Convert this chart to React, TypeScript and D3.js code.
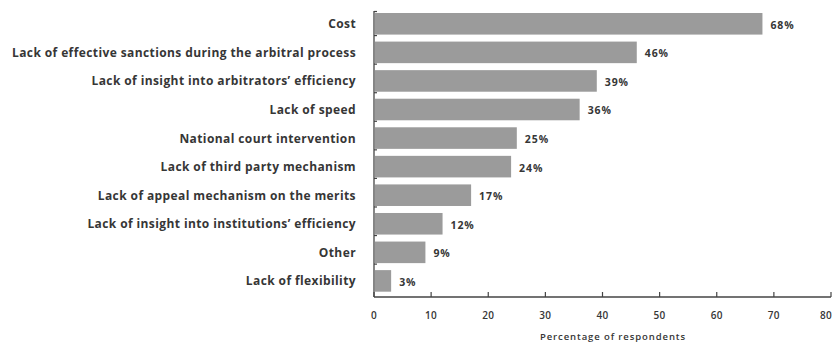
import React from "react";
import * as d3 from "d3";

const categories: string[] = [
  "Cost",
  "Lack of effective sanctions during the arbitral process",
  "Lack of insight into arbitrators\u2019 efficiency",
  "Lack of speed",
  "National court intervention",
  "Lack of third party mechanism",
  "Lack of appeal mechanism on the merits",
  "Lack of insight into institutions\u2019 efficiency",
  "Other",
  "Lack of flexibility",
];
const values: number[] = [68, 46, 39, 36, 25, 24, 17, 12, 9, 3];
const xTicks: number[] = [0, 10, 20, 30, 40, 50, 60, 70, 80];
const xTitle = "Percentage of respondents";

const W = 832;
const H = 344;
const FONT = "'Open Sans', 'DejaVu Sans', sans-serif";
const TEXT = "#363636";
const BAR = "#9b9b9b";

export default function App() {
  const x = d3.scaleLinear().domain([0, 80]).range([374, 831]);
  const y = d3
    .scaleBand<string>()
    .domain(categories)
    .range([7.7, 297])
    .paddingInner(0.245)
    .paddingOuter(0.186);
  const axisY = 297;
  const bw = y.bandwidth();

  // small y-axis ticks just below each bar
  const yTickPos = categories.map((c) => (y(c) as number) + bw + 1);

  return (
    <svg
      width={W}
      height={H}
      viewBox={`0 0 ${W} ${H}`}
      style={{ position: "absolute", left: 0, top: 0, background: "#fff" }}
      fontFamily={FONT}
    >
      {/* bars */}
      {categories.map((c, i) => (
        <rect
          key={c}
          x={x(0) + 1}
          y={y(c)}
          width={x(values[i]) - x(0) - 1}
          height={bw}
          fill={BAR}
        />
      ))}

      {/* category labels */}
      {categories.map((c) => (
        <text
          key={"l" + c}
          x={356}
          y={(y(c) as number) + bw / 2}
          textAnchor="end"
          dominantBaseline="central"
          fontSize={12}
          fontWeight={700}
          letterSpacing={0.4}
          fill={TEXT}
        >
          {c}
        </text>
      ))}

      {/* value labels */}
      {categories.map((c, i) => (
        <text
          key={"v" + c}
          x={x(values[i]) + 8}
          y={(y(c) as number) + bw / 2 + 1}
          dominantBaseline="central"
          fontSize={10.5}
          fontWeight={700}
          letterSpacing={0.9}
          fill={TEXT}
        >
          {values[i]}%
        </text>
      ))}

      {/* y axis */}
      <line x1={x(0)} x2={x(0)} y1={11} y2={axisY} stroke="#444" strokeWidth={1.3} />
      <line x1={x(0)} x2={x(0) + 3} y1={11.5} y2={11.5} stroke="#444" strokeWidth={1.2} />
      {yTickPos.slice(0, -1).map((p, i) => (
        <line key={"yt" + i} x1={x(0)} x2={x(0) + 3} y1={p} y2={p} stroke="#444" strokeWidth={1.2} />
      ))}

      {/* x axis */}
      <line x1={x(0)} x2={x(80)} y1={axisY} y2={axisY} stroke="#444" strokeWidth={1.4} />
      {xTicks.map((t, i) => (
        <g key={"xt" + t}>
          <line x1={x(t)} x2={x(t)} y1={axisY} y2={axisY - 5} stroke="#444" strokeWidth={1.2} />
          <text
            x={i === xTicks.length - 1 ? W : x(t)}
            y={314.5}
            textAnchor={i === xTicks.length - 1 ? "end" : "middle"}
            dominantBaseline="central"
            fontSize={10}
            fontWeight={600}
            letterSpacing={0.3}
            fill={TEXT}
          >
            {t}
          </text>
        </g>
      ))}
      <text
        x={(538 + 688) / 2}
        y={336}
        textAnchor="middle"
        dominantBaseline="central"
        fontSize={9.5}
        fontWeight={600}
        letterSpacing={0.9}
        fill={TEXT}
      >
        {xTitle}
      </text>
    </svg>
  );
}
